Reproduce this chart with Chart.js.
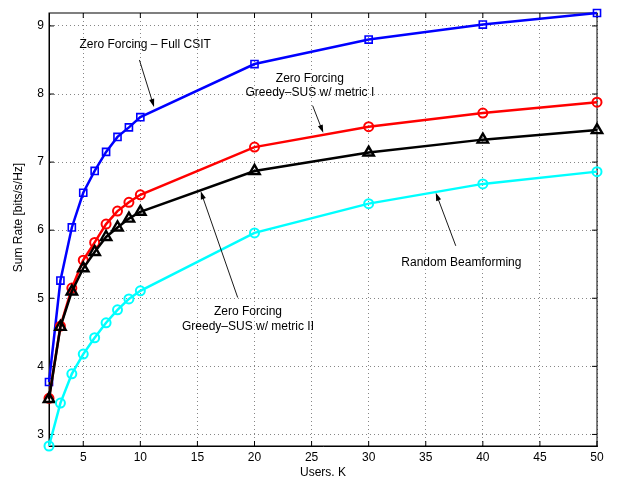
<!DOCTYPE html>
<html>
<head>
<meta charset="utf-8">
<script src="https://cdn.jsdelivr.net/npm/chart.js@4.4.1/dist/chart.umd.min.js"></script>
<style>
  html, body { margin: 0; padding: 0; background: #fff; }
  #wrap { width: 617px; height: 477px; }
</style>
</head>
<body>
<div id="wrap"><canvas id="sumrate-chart"></canvas></div>
<script>
// values
var users = [2, 3, 4, 5, 6, 7, 8, 9, 10, 20, 30, 40, 50];
var zf_full_csit = [3.77, 5.26, 6.04, 6.55, 6.87, 7.15, 7.37, 7.51, 7.66, 8.44, 8.80, 9.02, 9.19];
var zf_metric_1 = [3.53, 4.59, 5.15, 5.56, 5.82, 6.09, 6.28, 6.41, 6.52, 7.22, 7.52, 7.72, 7.88];
var zf_metric_2 = [3.52, 4.58, 5.10, 5.44, 5.68, 5.90, 6.04, 6.17, 6.27, 6.87, 7.14, 7.33, 7.47];
var random_bf = [2.83, 3.46, 3.89, 4.18, 4.42, 4.64, 4.83, 4.99, 5.11, 5.96, 6.39, 6.68, 6.86];

var x_ticks = [5, 10, 15, 20, 25, 30, 35, 40, 45, 50];
var y_ticks = [3, 4, 5, 6, 7, 8, 9];

// text labels with arrows (data coordinates)
var notes = [
  { lines: ['Zero Forcing \u2013 Full CSIT'], x: 10.42, y: 8.72, from: [9.92, 8.50], to: [11.2, 7.81] },
  { lines: ['Zero Forcing', 'Greedy\u2013SUS w/ metric I'], x: 24.85, y: 8.23, from: [25.09, 7.83], to: [26.02, 7.43] },
  { lines: ['Zero Forcing', 'Greedy\u2013SUS w/ metric II'], x: 19.43, y: 4.80, from: [18.53, 5.01], to: [15.29, 6.57] },
  { lines: ['Random Beamforming'], x: 38.12, y: 5.52, from: [37.63, 5.77], to: [35.88, 6.55] }
];

var FONT = '"Liberation Sans", Helvetica, Arial, sans-serif';
Chart.defaults.font.family = FONT;
Chart.defaults.font.size = 12;
Chart.defaults.color = '#000';

function points(vals) {
  return users.map(function (u, i) { return { x: u, y: vals[i] }; });
}

var all_vals = zf_full_csit.concat(zf_metric_1, zf_metric_2, random_bf);

var frame_plugin = {
  id: 'frame',
  beforeDatasetsDraw: function (chart) {
    var ctx = chart.ctx, a = chart.chartArea;
    var xs = chart.scales.x, ys = chart.scales.y;
    ctx.save();
    ctx.strokeStyle = '#000';
    ctx.lineWidth = 1;
    ctx.strokeRect(a.left, a.top, a.right - a.left, a.bottom - a.top);
    ctx.beginPath();
    x_ticks.forEach(function (t) {
      var px = xs.getPixelForValue(t);
      ctx.moveTo(px, a.bottom); ctx.lineTo(px, a.bottom - 5);
      ctx.moveTo(px, a.top); ctx.lineTo(px, a.top + 5);
    });
    y_ticks.forEach(function (t) {
      var py = ys.getPixelForValue(t);
      ctx.moveTo(a.left, py); ctx.lineTo(a.left + 5, py);
      ctx.moveTo(a.right, py); ctx.lineTo(a.right - 5, py);
    });
    ctx.stroke();

    // y axis label, placed a little above centre as in the original
    ctx.fillStyle = '#000';
    ctx.font = '12px ' + FONT;
    ctx.textAlign = 'center';
    ctx.textBaseline = 'middle';
    ctx.translate(19, 217.5);
    ctx.rotate(-Math.PI / 2);
    ctx.fillText('Sum Rate [bits/s/Hz]', 0, 0);
    ctx.restore();
  },
  afterDatasetsDraw: function (chart) {
    var ctx = chart.ctx;
    var xs = chart.scales.x, ys = chart.scales.y;
    ctx.save();
    ctx.fillStyle = '#000';
    ctx.strokeStyle = '#000';
    ctx.font = '12px ' + FONT;
    ctx.textAlign = 'center';
    ctx.textBaseline = 'middle';
    notes.forEach(function (n) {
      var cx = xs.getPixelForValue(n.x), cy = ys.getPixelForValue(n.y);
      n.lines.forEach(function (l, i) { ctx.fillText(l, cx, cy + i * 14.4); });
      var x0 = xs.getPixelForValue(n.from[0]), y0 = ys.getPixelForValue(n.from[1]);
      var x1 = xs.getPixelForValue(n.to[0]), y1 = ys.getPixelForValue(n.to[1]);
      var ang = Math.atan2(y1 - y0, x1 - x0);
      ctx.beginPath();
      ctx.moveTo(x0, y0);
      ctx.lineTo(x1 - 6 * Math.cos(ang), y1 - 6 * Math.sin(ang));
      ctx.lineWidth = 0.9;
      ctx.stroke();
      ctx.beginPath();
      ctx.moveTo(x1, y1);
      ctx.lineTo(x1 - 8 * Math.cos(ang) + 2.6 * Math.sin(ang), y1 - 8 * Math.sin(ang) - 2.6 * Math.cos(ang));
      ctx.lineTo(x1 - 8 * Math.cos(ang) - 2.6 * Math.sin(ang), y1 - 8 * Math.sin(ang) + 2.6 * Math.cos(ang));
      ctx.closePath();
      ctx.fill();
    });
    ctx.restore();
  }
};

var sumrate = {
  type: 'line',
  data: {
    datasets: [{
      label: 'Zero Forcing - Full CSIT',
      data: points(zf_full_csit),
      borderColor: '#0000ff',
      backgroundColor: 'rgba(0,0,0,0)',
      pointStyle: 'rect',
      pointRadius: 5,
      pointBorderWidth: 1.6,
      borderWidth: 2.5,
      clip: false,
      order: 4
    }, {
      label: 'Zero Forcing Greedy-SUS w/ metric I',
      data: points(zf_metric_1),
      borderColor: '#ff0000',
      backgroundColor: 'rgba(0,0,0,0)',
      pointStyle: 'circle',
      pointRadius: 4.5,
      pointBorderWidth: 2,
      borderWidth: 2.5,
      clip: false,
      order: 3
    }, {
      label: 'Zero Forcing Greedy-SUS w/ metric II',
      data: points(zf_metric_2),
      borderColor: '#000000',
      backgroundColor: 'rgba(0,0,0,0)',
      pointStyle: 'triangle',
      pointRadius: 6,
      pointBorderWidth: 2.4,
      borderWidth: 2.5,
      clip: false,
      order: 2
    }, {
      label: 'Random Beamforming',
      data: points(random_bf),
      borderColor: '#00ffff',
      backgroundColor: 'rgba(0,0,0,0)',
      pointStyle: 'circle',
      pointRadius: 4.5,
      pointBorderWidth: 2,
      borderWidth: 2.5,
      clip: false,
      order: 1
    }]
  },
  options: {
    responsive: true,
    maintainAspectRatio: false,
    animation: false,
    layout: { padding: { top: 13, right: 20, left: 0, bottom: 0 } },
    plugins: {
      legend: { display: false },
      tooltip: { enabled: false }
    },
    elements: { line: { tension: 0 } },
    scales: {
      x: {
        type: 'linear',
        min: 2,
        max: 50,
        afterBuildTicks: function (s) { s.ticks = x_ticks.map(function (v) { return { value: v }; }); },
        afterFit: function (s) { s.height = 31; },
        ticks: { padding: 4, maxRotation: 0, autoSkip: false, font: { size: 12 } },
        grid: { drawTicks: false, color: 'rgba(0,0,0,0.6)', lineWidth: 0.8 },
        border: { display: true, color: '#000', dash: [1, 3] },
        title: { display: true, text: 'Users. K', padding: { top: 0, bottom: 0 }, font: { size: 12, lineHeight: 0.8 } }
      },
      y: {
        type: 'linear',
        min: Math.min.apply(null, all_vals),
        max: Math.max.apply(null, all_vals),
        afterBuildTicks: function (s) { s.ticks = y_ticks.map(function (v) { return { value: v }; }); },
        afterFit: function (s) { s.width = 49; },
        ticks: { padding: 5, autoSkip: false, font: { size: 12 } },
        grid: { drawTicks: false, color: 'rgba(0,0,0,0.6)', lineWidth: 0.8 },
        border: { display: true, color: '#000', dash: [1, 3] },
        title: { display: false }
      }
    }
  },
  plugins: [frame_plugin]
};

window.onload = function () {
  var ctx = document.getElementById('sumrate-chart').getContext('2d');
  window.sumrateChart = new Chart(ctx, sumrate);
};
</script>
</body>
</html>
